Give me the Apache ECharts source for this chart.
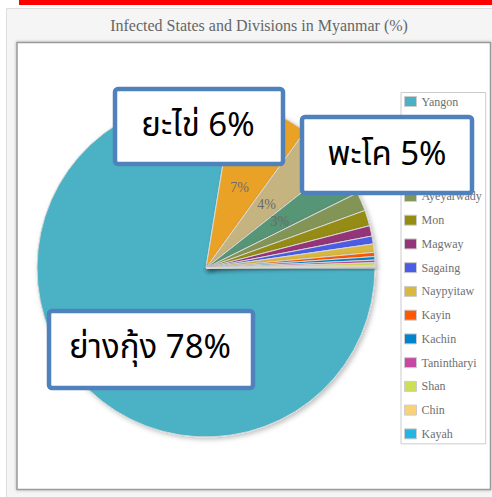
<!DOCTYPE html>
<html><head><meta charset="utf-8">
<script src="https://cdn.jsdelivr.net/npm/echarts@6/dist/echarts.min.js"></script>
<style>html,body{margin:0;padding:0;background:#fff}#c{width:492px;height:497px}</style>
</head><body><div id="c"></div>
<script>
const categories = ['Yangon','Rakhine','Bago','Mandalay','Ayeyarwady','Mon','Magway','Sagaing','Naypyitaw','Kayin','Kachin','Tanintharyi','Shan','Chin','Kayah'];
const values = [77.6, 7.4, 4.4, 3.3, 1.8, 1.5, 1.0, 0.75, 0.8, 0.4, 0.33, 0.25, 0.25, 0.15, 0.1];
const colors = ['#4bb2c5','#eaa228','#c5b47f','#579575','#839557','#958c12','#953579','#4b5de4','#d8b83f','#ff5800','#0085cc','#c747a3','#cddf54','#fbd178','#26b4e3'];
const titleText = 'Infected States and Divisions in Myanmar (%)';
const calloutTexts = ['ยะไข่ 6%', 'พะโค 5%', 'ย่างกุ้ง 78%'];

const chart = echarts.init(document.getElementById('c'), null, {renderer: 'svg'});

const boxes = [
  {x: 115, y: 89, w: 168, h: 75, tx: 198, ty: 126},
  {x: 302, y: 117, w: 170, h: 76, tx: 387, ty: 155},
  {x: 49, y: 311, w: 204, h: 77, tx: 150, ty: 348}
];
const calloutGraphics = [];
boxes.forEach((b, i) => {
  calloutGraphics.push({
    type: 'rect', z: 100,
    shape: {x: b.x, y: b.y, width: b.w, height: b.h, r: 3},
    style: {fill: '#fff', stroke: '#4f81bd', lineWidth: 4.5}
  });
  calloutGraphics.push({
    type: 'text', z: 101,
    style: {text: calloutTexts[i], x: b.tx, y: b.ty, align: 'center', verticalAlign: 'middle',
      font: '33px "Noto Sans Thai", Tahoma, "DejaVu Sans", sans-serif', fill: '#000'}
  });
});

const serif = '"Liberation Serif", "Times New Roman", serif';

chart.setOption({
  animation: false,
  title: {
    text: titleText, left: 254, top: 12, textAlign: 'center',
    textStyle: {fontFamily: serif, fontSize: 16, fontWeight: 'normal', color: '#666'}
  },
  legend: {
    orient: 'vertical', left: 401, top: 92.5, data: categories,
    icon: 'rect', itemWidth: 12, itemHeight: 10, itemGap: 11.74,
    backgroundColor: '#fff', borderColor: '#ccc', borderWidth: 1, padding: [3, 4, 4, 3],
    textStyle: {fontFamily: serif, fontSize: 12, color: '#707070', lineHeight: 12},
    itemStyle: {borderColor: '#ccc', borderWidth: 1},
    selectedMode: false
  },
  graphic: [
    {type: 'rect', z: -20, shape: {x: 19, y: 0, width: 473, height: 5}, style: {fill: '#ff0000'}},
    {type: 'rect', z: -19, shape: {x: 6.5, y: 8.5, width: 490, height: 495}, style: {fill: '#f5f5f5', stroke: '#dedede', lineWidth: 1}},
    {type: 'rect', z: -18, shape: {x: 17, y: 42.5, width: 473.5, height: 447}, style: {fill: '#fff', stroke: '#9a9a9a', lineWidth: 1.5, shadowBlur: 3, shadowColor: 'rgba(0,0,0,0.3)'}}
  ].concat(calloutGraphics),
  series: [{
    type: 'pie', center: [206, 268], radius: 169, startAngle: 0, clockwise: true,
    avoidLabelOverlap: false,
    data: categories.map((n, i) => ({name: n, value: values[i], itemStyle: {color: colors[i]}})),
    itemStyle: {borderColor: '#d8d8d8', borderWidth: 1, shadowBlur: 5, shadowOffsetX: 2, shadowOffsetY: 2, shadowColor: 'rgba(0,0,0,0.25)'},
    label: {show: true, position: 'inside',
      formatter: p => (p.percent >= 3 && p.percent < 50) ? Math.round(p.percent) + '%' : '',
      fontFamily: serif, fontSize: 14, color: '#6a6a6a', textBorderWidth: 0},
    labelLine: {show: false},
    emphasis: {disabled: true}
  }]
});
</script></body></html>
